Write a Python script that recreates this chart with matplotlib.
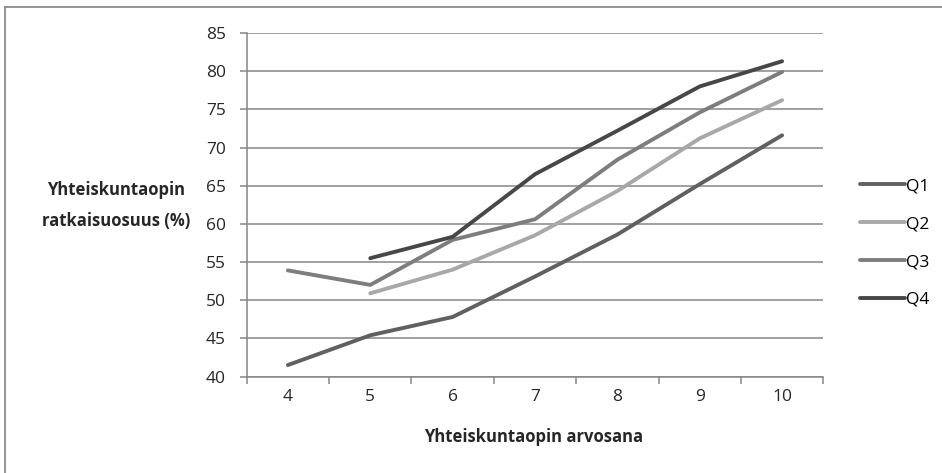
import matplotlib
matplotlib.use("Agg")
import matplotlib.pyplot as plt
from matplotlib.lines import Line2D

plt.rcParams["font.family"] = ["Open Sans", "DejaVu Sans"]

grades = [4, 5, 6, 7, 8, 9, 10]
q1 = [41.5, 45.4, 47.8, 53.1, 58.6, 65.2, 71.6]
q2 = [None, 50.9, 54.0, 58.5, 64.3, 71.2, 76.2]
q3 = [53.9, 52.0, 57.9, 60.6, 68.4, 74.6, 79.9]
q4 = [None, 55.5, 58.3, 66.5, 72.2, 78.0, 81.3]
series = {"Q1": q1, "Q2": q2, "Q3": q3, "Q4": q4}
colors = {"Q1": "#606060", "Q2": "#a8a8a8", "Q3": "#7d7d7d", "Q4": "#474747"}

W, H = 942, 473
fs = 12.5
fs_title = 12
txt_c = "#262626"
fig = plt.figure(figsize=(W / 100, H / 100), dpi=100)
ax = fig.add_axes([246.7 / W, 1 - 376.5 / H, (823.3 - 246.7) / W, (376.5 - 33) / H])

grid_c = "#868686"
for name, vals in series.items():
    xs = [i for i, v in enumerate(vals) if v is not None]
    ys = [v for v in vals if v is not None]
    ax.plot(xs, ys, color=colors[name], lw=2.8, solid_capstyle="round", zorder=3)

ax.set_xlim(-0.5, len(grades) - 0.5)
ax.set_ylim(40, 85)
ax.set_yticks(range(40, 86, 5))
ax.yaxis.grid(True, color=grid_c, lw=1.1)
ax.set_axisbelow(True)
ax.set_xticks(range(len(grades)))
ax.set_xticklabels([str(g) for g in grades])
ax.set_xticks([i - 0.5 for i in range(len(grades) + 1)], minor=True)
ax.tick_params(axis="x", which="major", length=0, pad=9, labelsize=fs, colors=txt_c)
ax.tick_params(axis="x", which="minor", length=5, width=1.1, color=grid_c)
ax.tick_params(axis="y", length=5, width=1.1, color=grid_c, pad=10, labelsize=fs, labelcolor=txt_c)
for s in ["top", "right"]:
    ax.spines[s].set_visible(False)
for s in ["left", "bottom"]:
    ax.spines[s].set_color(grid_c)
    ax.spines[s].set_linewidth(1.1)

fig.text(116 / W, 1 - 190 / H, "Yhteiskuntaopin", ha="center", va="center",
         fontsize=fs_title, fontweight="bold", color=txt_c)
fig.text(116 / W, 1 - 221 / H, "ratkaisuosuus (%)", ha="center", va="center",
         fontsize=fs_title, fontweight="bold", color=txt_c)
fig.text(534 / W, 1 - 437 / H, "Yhteiskuntaopin arvosana", ha="center", va="center",
         fontsize=fs_title, fontweight="bold", color=txt_c)

handles = [Line2D([], [], color=colors[k], lw=2.8, solid_capstyle="round") for k in series]
fig.legend(handles, list(series), loc="center left", bbox_to_anchor=(853 / W, 1 - 243 / H),
           frameon=False, fontsize=fs, handlelength=2.6, handletextpad=0.05,
           labelspacing=1.25, borderaxespad=0)

# frame line along the left and top edges
fig.add_artist(Line2D([5 / W, 5 / W], [0, 1 - 7 / H], color="#8c8c8c", lw=1.3))
fig.add_artist(Line2D([5 / W, 1], [1 - 7 / H, 1 - 7 / H], color="#8c8c8c", lw=1.3))

fig.savefig("out.png", dpi=100)
